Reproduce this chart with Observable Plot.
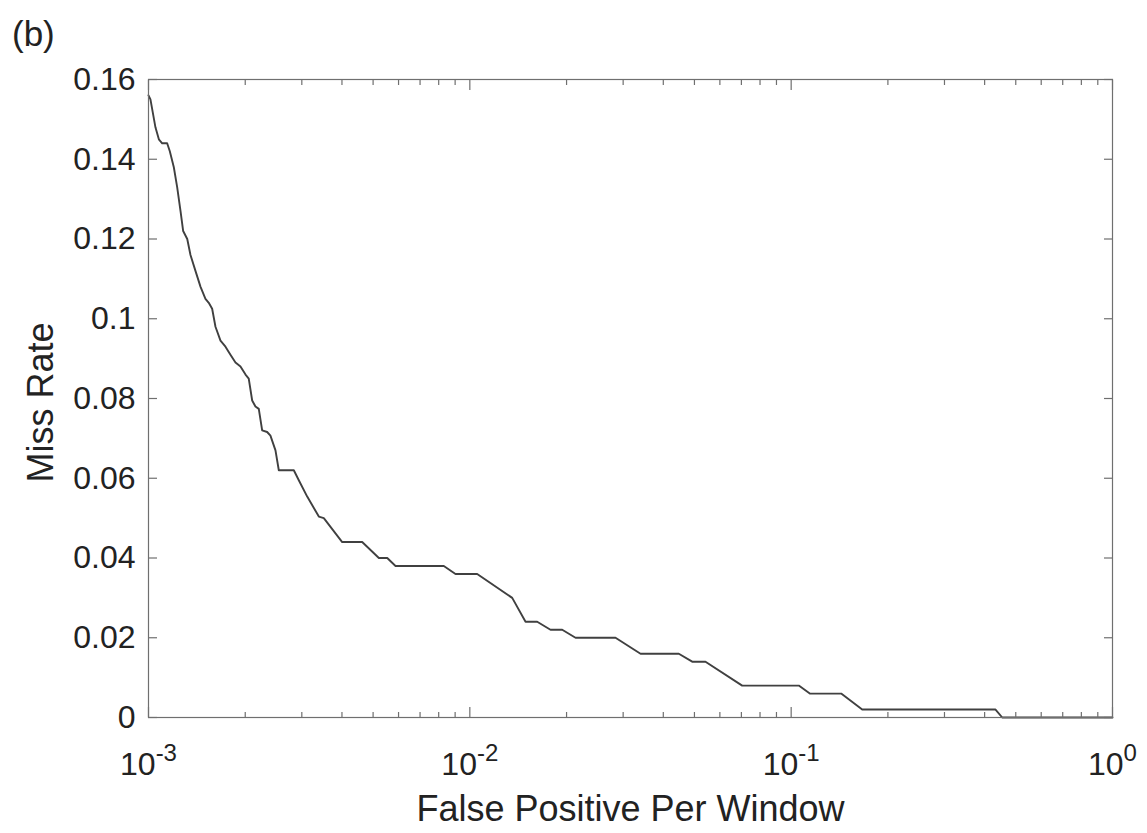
<!DOCTYPE html>
<html>
<head>
<meta charset="utf-8">
<script src="https://cdn.jsdelivr.net/npm/d3@7"></script>
<script src="https://cdn.jsdelivr.net/npm/@observablehq/plot@0.6"></script>
<style>
  body { margin: 0; background: #fff; }
  #wrap { position: relative; width: 1147px; height: 833px; font-family: "Liberation Sans", Arial, sans-serif; }
  #tag { position: absolute; left: 12px; top: 16px; font-size: 35px; line-height: 35px; color: #222; }
  #chart { position: absolute; left: 0; top: 0; }
</style>
</head>
<body>
<div id="wrap">
  <div id="chart"></div>
  <div id="tag">(b)</div>
</div>
<script>
// False positives per window (x) and miss rate (y)
const fppw = [
  0.001, 0.001014, 0.001051, 0.001077, 0.001103, 0.001143, 0.001165, 0.001199, 0.001228, 0.001258,
  0.001282, 0.00132, 0.001351, 0.0014, 0.001452, 0.001504, 0.00154, 0.001578, 0.001616, 0.001675,
  0.001736, 0.001799, 0.001865, 0.001933, 0.002004, 0.002051, 0.002102, 0.002152, 0.002204, 0.002258,
  0.00234, 0.002396, 0.002484, 0.002544, 0.002833, 0.002936, 0.003118, 0.003389, 0.003512, 0.004007,
  0.004624, 0.005211, 0.005534, 0.005872, 0.008299, 0.009023, 0.010542, 0.013549, 0.014905, 0.016205,
  0.017824, 0.019387, 0.021326, 0.028405, 0.03398, 0.044708, 0.049207, 0.054128, 0.070403, 0.10563,
  0.11429, 0.1431, 0.16638, 0.43249, 0.4538, 1.0
];
const missRate = [
  0.156, 0.155, 0.148, 0.145, 0.144, 0.144, 0.142, 0.138, 0.133, 0.127,
  0.122, 0.120, 0.116, 0.112, 0.108, 0.105, 0.104, 0.1025, 0.098, 0.0945,
  0.093, 0.091, 0.089, 0.088, 0.086, 0.085, 0.0795, 0.078, 0.0774, 0.072,
  0.0716, 0.0707, 0.067, 0.062, 0.062, 0.0595, 0.0554, 0.0504, 0.050, 0.044,
  0.044, 0.040, 0.040, 0.038, 0.038, 0.036, 0.036, 0.030, 0.024, 0.024,
  0.022, 0.022, 0.020, 0.020, 0.016, 0.016, 0.014, 0.014, 0.008, 0.008,
  0.006, 0.006, 0.002, 0.002, 0, 0
];
const yTicks = [0, 0.02, 0.04, 0.06, 0.08, 0.1, 0.12, 0.14, 0.16];
const xMajorTicks = [0.001, 0.01, 0.1, 1];
const xMinorTicks = [
  0.002, 0.003, 0.004, 0.005, 0.006, 0.007, 0.008, 0.009,
  0.02, 0.03, 0.04, 0.05, 0.06, 0.07, 0.08, 0.09,
  0.2, 0.3, 0.4, 0.5, 0.6, 0.7, 0.8, 0.9
];
const xLabel = "False Positive Per Window";
const yLabel = "Miss Rate";

const data = fppw.map((x, i) => ({x, y: missRate[i]}));
const axisColor = "#6f6f6f";
const textColor = "#222";
const noText = () => "";

const chart = Plot.plot({
  width: 1147,
  height: 833,
  marginLeft: 148,
  marginRight: 35,
  marginTop: 79,
  marginBottom: 116,
  style: {fontFamily: '"Liberation Sans", Arial, sans-serif', color: textColor, background: "transparent", overflow: "visible"},
  x: {type: "log", domain: [0.001, 1]},
  y: {domain: [0, 0.16]},
  marks: [
    Plot.line(data, {x: "x", y: "y", stroke: "#404040", strokeWidth: 1.9}),
    Plot.frame({stroke: axisColor, strokeWidth: 1.2}),
    // inward ticks, MATLAB style, on all four sides
    Plot.axisX({ticks: xMajorTicks, anchor: "bottom", tickSize: -10, tickFormat: noText, label: null, stroke: axisColor, strokeWidth: 1.2}),
    Plot.axisX({ticks: xMajorTicks, anchor: "top", tickSize: -10, tickFormat: noText, label: null, stroke: axisColor, strokeWidth: 1.2}),
    Plot.axisX({ticks: xMinorTicks, anchor: "bottom", tickSize: -5, tickFormat: noText, label: null, stroke: axisColor, strokeWidth: 1.2}),
    Plot.axisX({ticks: xMinorTicks, anchor: "top", tickSize: -5, tickFormat: noText, label: null, stroke: axisColor, strokeWidth: 1.2}),
    Plot.axisY({ticks: yTicks, anchor: "left", tickSize: -9, tickFormat: noText, label: null, stroke: axisColor, strokeWidth: 1.2}),
    Plot.axisY({ticks: yTicks, anchor: "right", tickSize: -9, tickFormat: noText, label: null, stroke: axisColor, strokeWidth: 1.2}),
    Plot.axisY({
      ticks: yTicks, anchor: "left", tickSize: 0, tickPadding: 13, fontSize: 32, fill: textColor, label: null,
      tickFormat: d => d === 0 ? "0" : String(+d.toFixed(2))
    }),
    Plot.axisX({
      ticks: xMajorTicks, anchor: "bottom", tickSize: 0, tickPadding: 35, lineAnchor: "top", fontSize: 32, fill: textColor, label: null,
      tickFormat: d => "10^" + Math.round(Math.log10(d))
    }),
    Plot.text([xLabel], {frameAnchor: "bottom", dy: 78, lineAnchor: "top", textAnchor: "middle", fontSize: 36, fill: textColor}),
    Plot.text([yLabel], {frameAnchor: "left", dx: -96, dy: 4, rotate: -90, lineAnchor: "bottom", textAnchor: "middle", fontSize: 36, fill: textColor})
  ]
});

// render the power-of-ten labels with real superscripts
chart.querySelectorAll('g[aria-label="x-axis tick label"] text').forEach(t => {
  const s = t.textContent;
  if (!s.includes("^")) return;
  const [base, exp] = s.split("^");
  t.textContent = "";
  const b = document.createElementNS("http://www.w3.org/2000/svg", "tspan");
  b.textContent = base;
  const e = document.createElementNS("http://www.w3.org/2000/svg", "tspan");
  e.textContent = exp;
  e.setAttribute("font-size", "24");
  e.setAttribute("dy", "-14");
  t.appendChild(b);
  t.appendChild(e);
});

document.getElementById("chart").appendChild(chart);
</script>
</body>
</html>
